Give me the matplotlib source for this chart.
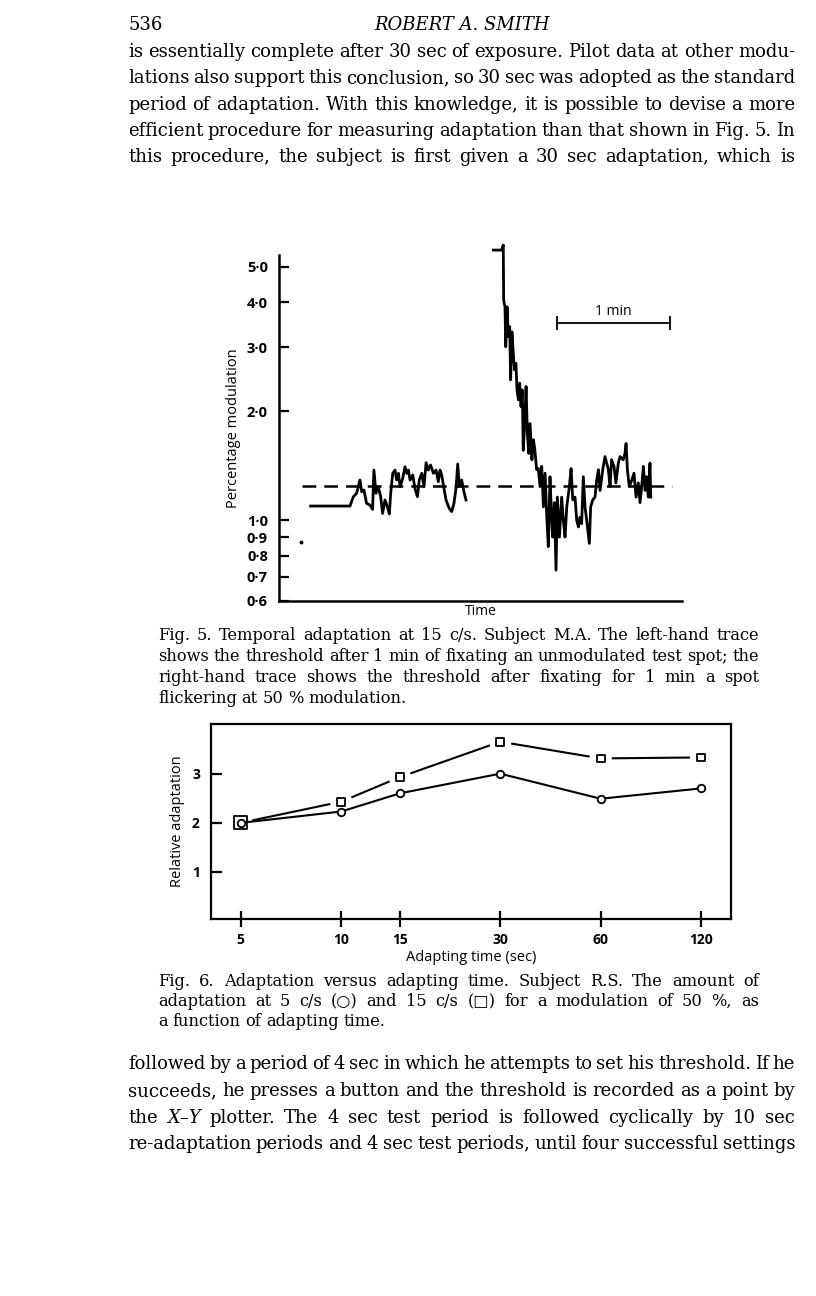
import matplotlib
matplotlib.use("Agg")
import matplotlib.pyplot as plt
import matplotlib.transforms as mtransforms

W, H = 816, 1296
SERIF = ["DejaVu Serif", "DejaVu Sans"]
SANS = ["Open Sans", "DejaVu Sans"]

# ---------------- data: Fig. 5 (threshold traces) ----------------
left_t = [16.8, 37.7, 39.5, 41.2, 43.0, 43.9, 45.1, 46.5, 48.3, 49.7, 50.4, 51.5, 52.7,
          54.0, 55.0, 56.3, 57.5, 58.6, 59.3, 60.4, 61.6, 62.5, 63.4, 64.3, 65.7, 66.9,
          67.8, 68.7, 69.6, 71.0, 72.2, 73.5, 74.5, 75.8, 77.0, 78.1, 79.3, 80.5, 82.0,
          83.4, 84.6, 85.5, 86.4, 87.3, 88.7, 90.4, 91.7, 92.9, 94.0, 94.9, 95.8, 97.0,
          98.2, 99.3]
left_v = [1.096, 1.096, 1.163, 1.188, 1.293, 1.200, 1.213, 1.115, 1.103, 1.073, 1.377,
          1.188, 1.239, 1.163, 1.046, 1.139, 1.092, 1.042, 1.188, 1.349, 1.377, 1.293,
          1.349, 1.239, 1.306, 1.407, 1.349, 1.377, 1.293, 1.335, 1.226, 1.163, 1.293,
          1.349, 1.239, 1.443, 1.377, 1.422, 1.349, 1.377, 1.279, 1.377, 1.335, 1.253,
          1.139, 1.080, 1.058, 1.115, 1.226, 1.431, 1.239, 1.293, 1.200, 1.139]

right_t = [113.8, 118.2, 119.1, 119.3, 120.0, 120.4, 121.1, 121.8, 122.5, 123.0, 123.7,
           124.4, 125.1, 125.8, 126.4, 127.1, 127.8, 128.5, 129.2, 129.7, 130.4, 131.2,
           131.9, 132.6, 133.3, 134.3, 135.1, 135.9, 136.8, 137.7, 138.6, 139.5, 140.4,
           141.3, 142.1, 143.0, 143.9, 144.8, 145.3, 146.2, 147.1, 147.8, 148.9, 150.1,
           151.0, 151.9, 152.8, 154.2, 155.1, 156.0, 157.2, 158.1, 159.0, 159.8, 160.7,
           161.6, 162.5, 163.4, 164.8, 165.5, 166.6, 167.8, 168.7, 169.6, 170.5, 171.9,
           173.1, 174.0, 174.9, 175.8, 176.6, 177.9, 178.9, 180.2, 181.1, 182.8, 183.7,
           184.3, 185.0, 186.0, 187.3, 188.5, 189.6, 190.8, 191.7, 192.6, 193.5, 194.4,
           195.2, 196.1, 197.0, 197.4]
right_v = [5.56, 5.56, 5.74, 4.05, 3.88, 3.01, 3.88, 3.21, 3.42, 2.44, 3.31, 2.89, 2.60,
           2.71, 2.29, 2.15, 2.39, 2.06, 2.29, 1.56, 1.81, 2.34, 1.74, 1.53, 1.85, 1.47,
           1.67, 1.56, 1.38, 1.39, 1.24, 1.41, 1.09, 1.35, 1.05, 0.847, 1.32, 1.00, 0.90,
           1.12, 0.73, 1.16, 0.90, 1.16, 1.00, 0.90, 1.09, 1.24, 1.39, 1.14, 1.16, 1.00,
           0.96, 1.02, 0.98, 1.32, 1.09, 1.00, 0.865, 1.09, 1.14, 1.16, 1.29, 1.38, 1.21,
           1.38, 1.50, 1.44, 1.38, 1.24, 1.47, 1.41, 1.27, 1.44, 1.50, 1.47, 1.53, 1.63,
           1.38, 1.24, 1.29, 1.35, 1.16, 1.27, 1.12, 1.24, 1.41, 1.21, 1.32, 1.16, 1.44,
           1.16]

ref_level = 1.245
ref_span = [12.2, 208.7]
dot_t, dot_v = [11.7], [0.872]
scalebar_t = [147.6, 207.6]
scalebar_v = 3.51

f5_ticks = [0.6, 0.7, 0.8, 0.9, 1.0, 2.0, 3.0, 4.0, 5.0]
f5_ticklabels = ["0·6", "0·7", "0·8", "0·9", "1·0", "2·0", "3·0", "4·0", "5·0"]

# ---------------- data: Fig. 6 ----------------
adapt_times = [5, 10, 15, 30, 60, 120]
adapt_5cs = [2.0, 2.23, 2.6, 3.0, 2.49, 2.7]      # circles
adapt_15cs = [2.0, 2.43, 2.93, 3.65, 3.31, 3.33]  # squares
f6_xticklabels = ["5", "10", "15", "30", "60", "120"]
f6_yticks = [1, 2, 3]

# ---------------- page text ----------------
header_num = "536"
header_title = "ROBERT A. SMITH"
para1 = [
    "is essentially complete after 30 sec of exposure. Pilot data at other modu-",
    "lations also support this conclusion, so 30 sec was adopted as the standard",
    "period of adaptation. With this knowledge, it is possible to devise a more",
    "efficient procedure for measuring adaptation than that shown in Fig. 5. In",
    "this procedure, the subject is first given a 30 sec adaptation, which is",
]
cap5 = [
    "Fig. 5. Temporal adaptation at 15 c/s. Subject M.A. The left-hand trace",
    "shows the threshold after 1 min of fixating an unmodulated test spot; the",
    "right-hand trace shows the threshold after fixating for 1 min a spot",
    "flickering at 50 % modulation.",
]
cap6 = [
    "Fig. 6. Adaptation versus adapting time. Subject R.S. The amount of",
    "adaptation at 5 c/s (○) and 15 c/s (□) for a modulation of 50 %, as",
    "a function of adapting time.",
]
para2 = [
    "followed by a period of 4 sec in which he attempts to set his threshold. If he",
    "succeeds, he presses a button and the threshold is recorded as a point by",
    "the _X–Y plotter. The 4 sec test period is followed cyclically by 10 sec",
    "re-adaptation periods and 4 sec test periods, until four successful settings",
]

fig = plt.figure(figsize=(W / 100, H / 100), dpi=100)
fig.patch.set_facecolor("white")
renderer = fig.canvas.get_renderer()
IDT = mtransforms.IdentityTransform()


def make_words(words, size):
    out = []
    for w in words:
        style = "normal"
        if w.startswith("_"):
            style, w = "italic", w[1:]
        t = fig.text(0, 0, w, fontsize=size, family=SERIF, style=style,
                     ha="left", va="baseline", transform=IDT)
        out.append((t, t.get_window_extent(renderer).width))
    return out


def fit_size(lines, x0, x1, min_gap_em):
    best = 100.0
    for line in lines:
        words = line.split(" ")
        items = make_words(words, 10)
        w10 = sum(w for _, w in items)
        for t, _ in items:
            t.remove()
        n = len(words) - 1
        s = (x1 - x0) / (w10 / 10 + n * min_gap_em * 100 / 72)
        best = min(best, s)
    return best


def block(lines, x0, x1, baselines, size, last_justified):
    for i, (line, yb) in enumerate(zip(lines, baselines)):
        items = make_words(line.split(" "), size)
        total = sum(w for _, w in items)
        justify = last_justified or i < len(lines) - 1
        if justify and len(items) > 1:
            gap = (x1 - x0 - total) / (len(items) - 1)
        else:
            gap = size * 100 / 72 * 0.3
        x = x0
        for t, wd in items:
            t.set_position((x, H - yb))
            x += wd + gap


BODY_L, BODY_R = 128, 795
CAP_L, CAP_R = 158, 759
BODY_SIZE = fit_size(para1[:-1] + para2, BODY_L, BODY_R, 0.22)
CAP_SIZE = fit_size(cap5[:-1] + cap6[:-1], CAP_L, CAP_R, 0.3)

fig.text(BODY_L, H - 30, header_num, transform=IDT, fontsize=BODY_SIZE, family=SERIF,
         va="baseline")
fig.text(462, H - 30, header_title, transform=IDT, fontsize=BODY_SIZE, family=SERIF,
         style="italic", ha="center", va="baseline")
block(para1, BODY_L, BODY_R, [57, 83.3, 109.6, 136, 162.3], BODY_SIZE, True)
block(cap5, CAP_L, CAP_R, [640, 661, 682, 703], CAP_SIZE, False)
block(cap6, CAP_L, CAP_R, [986, 1006, 1026], CAP_SIZE, False)
block(para2, BODY_L, BODY_R, [1069, 1096, 1123, 1149], BODY_SIZE, True)

# ---------------- Fig. 5 axes ----------------
ax5 = fig.add_axes([279 / W, 1 - 601 / H, (682 - 279) / W, (601 - 255) / H])
ax5.set_yscale("log")
ax5.set_xlim(0, 214)
ax5.set_ylim(0.6, 5.39)
for s in ("top", "right"):
    ax5.spines[s].set_visible(False)
for s in ("left", "bottom"):
    ax5.spines[s].set_linewidth(1.8)
ax5.set_xticks([])
ax5.set_yticks(f5_ticks)
ax5.set_yticklabels(f5_ticklabels)
ax5.yaxis.set_minor_locator(matplotlib.ticker.NullLocator())
ax5.tick_params(axis="y", direction="in", length=7, width=1.6, pad=8,
                labelsize=10.5)
for lab in ax5.get_yticklabels():
    lab.set_family(SANS)
    lab.set_fontweight("bold")
ax5.set_ylabel("Percentage modulation", family=SANS, fontsize=10.5, labelpad=4)
ax5.set_xlabel("Time", family=SANS, fontsize=10, labelpad=2)

ax5.hlines(ref_level, ref_span[0], ref_span[1], colors="black", lw=1.8,
           linestyles=(0, (5.5, 3.2)))
ax5.plot(left_t, left_v, color="black", lw=2.0)
ax5.plot(right_t, right_v, color="black", lw=2.0, clip_on=False)
ax5.plot(dot_t, dot_v, "o", color="black", ms=1.8)
ax5.plot(scalebar_t, [scalebar_v, scalebar_v], color="black", lw=1.3)
ax5.plot(scalebar_t, [scalebar_v, scalebar_v], "|", color="black", ms=10, mew=1.3)
ax5.text(sum(scalebar_t) / 2, scalebar_v * 1.075, "1 min", family=SANS, fontsize=10,
         ha="center", va="center")

# ---------------- Fig. 6 axes ----------------
ax6 = fig.add_axes([211 / W, 1 - 919 / H, (731 - 211) / W, (919 - 724) / H])
ax6.set_xscale("log")
ax6.set_xlim(4.07, 147.6)
ax6.set_ylim(0.044, 4.01)
for s in ax6.spines.values():
    s.set_linewidth(1.6)
ax6.set_xticks(adapt_times)
ax6.set_xticklabels(f6_xticklabels)
ax6.xaxis.set_minor_locator(matplotlib.ticker.NullLocator())
ax6.set_yticks(f6_yticks)
ax6.tick_params(axis="x", direction="inout", length=12, width=1.6, pad=4,
                labelsize=10)
ax6.tick_params(axis="y", direction="in", length=8, width=1.6, pad=8, labelsize=10)
for lab in ax6.get_xticklabels() + ax6.get_yticklabels():
    lab.set_family(SANS)
    lab.set_fontweight("bold")
ax6.set_xlabel("Adapting time (sec)", family=SANS, fontsize=10.5, labelpad=2)
ax6.set_ylabel("Relative adaptation", family=SANS, fontsize=10.5, labelpad=5)

# squares: line broken around each marker
ax6.plot(adapt_times, adapt_15cs, color="black", lw=1.5, zorder=2)
halo = [16] + [15] * 5
ax6.scatter(adapt_times, adapt_15cs, s=[h ** 2 for h in halo], marker="o",
            color="white", zorder=3)
sq_size = [9.5] + [5.6] * 5
ax6.scatter(adapt_times, adapt_15cs, s=[q ** 2 for q in sq_size], marker="s",
            facecolors="white", edgecolors="black", linewidths=1.3, zorder=4)
# circles
ax6.plot(adapt_times, adapt_5cs, color="black", lw=1.5, zorder=5)
ax6.plot(adapt_times, adapt_5cs, "o", ms=5.4, mfc="white", mec="black", mew=1.3,
         zorder=6)

fig.savefig("out.png", dpi=100, facecolor="white")
